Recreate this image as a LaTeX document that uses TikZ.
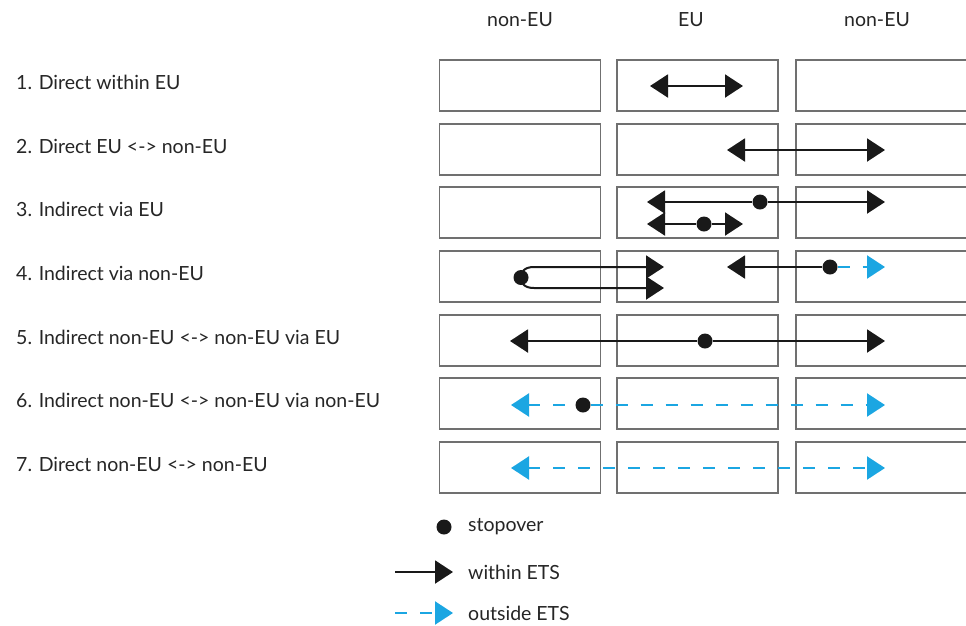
\documentclass[tikz,border=0pt]{standalone}
\usepackage{fontspec}
\setmainfont{Lato}
\usetikzlibrary{arrows.meta}
\definecolor{etsblue}{HTML}{1BA6E2}
\definecolor{boxgray}{HTML}{707070}
\begin{document}
\begin{tikzpicture}[x=1pt,y=-1pt,
  cell/.style={draw=boxgray,line width=1.2pt,minimum width=161pt,minimum height=51pt,inner sep=0pt},
  cellwide/.style={cell,minimum width=180pt},
  lbl/.style={anchor=base west,font=\fontsize{19.5}{22}\selectfont,text=black!85,inner sep=0pt},
  hdr/.style={font=\fontsize{19.5}{22}\selectfont,text=black!85,inner sep=0pt},
  stop/.style={circle,fill=black!90,minimum size=15pt,inner sep=0pt},
  tip/.style={Triangle[length=18pt,width=23pt]},
  within/.style={line width=2pt,black!90,{Triangle[length=18pt,width=23pt]}-{Triangle[length=18pt,width=23pt]}},
  withinR/.style={line width=2pt,black!90,-{Triangle[length=18pt,width=23pt]}},
  withinL/.style={line width=2pt,black!90,{Triangle[length=18pt,width=23pt]}-},
  outside/.style={line width=2.2pt,etsblue,dash pattern=on 12pt off 13pt,{Triangle[length=18pt,width=23pt]}-{Triangle[length=18pt,width=23pt]}},
  outsideR/.style={line width=2.2pt,etsblue,dash pattern=on 12pt off 13pt,-{Triangle[length=18pt,width=23pt]}},
  outsideL/.style={line width=2.2pt,etsblue,dash pattern=on 12pt off 13pt,{Triangle[length=18pt,width=23pt]}-},
]
\clip (0,0) rectangle (966,625);
\fill[white] (0,0) rectangle (966,625);
% headers
\node[hdr] (h1) at (520,20) {non-EU};
\node[hdr] (h2) at (691,20) {EU};
\node[hdr] (h3) at (877,20) {non-EU};
% rows
\foreach \r/\y/\t in {1/85.5/{1. Direct within EU},
                       2/149.5/{2. Direct EU <-> non-EU},
                       3/212.5/{3. Indirect via EU},
                       4/276.5/{4. Indirect via non-EU},
                       5/340.5/{5. Indirect non-EU <-> non-EU via EU},
                       6/403.5/{6. Indirect non-EU <-> non-EU via non-EU},
                       7/467.5/{7. Direct non-EU <-> non-EU}}{
  \node[lbl] (l\r) at (16,\y+3.5) {\t};
  \node[cell] (c\r a) at (520,\y) {};
  \node[cell] (c\r b) at (697.5,\y) {};
  \node[cellwide] (c\r c) at (886,\y) {};
}
% row 1
\coordinate (r1l) at (650,86);
\coordinate (r1r) at (743,86);
\draw[within] (r1l) -- (r1r);
% row 2
\coordinate (r2l) at (727,150);
\coordinate (r2r) at (885,150);
\draw[within] (r2l) -- (r2r);
% row 3
\coordinate (r3al) at (647,202);
\node[stop] (s3a) at (760,202) {};
\coordinate (r3ar) at (885,202);
\draw[withinL] (r3al) -- (s3a);
\draw[withinR] (s3a) -- (r3ar);
\coordinate (r3bl) at (647,224);
\node[stop] (s3b) at (704,224) {};
\coordinate (r3br) at (743,224);
\draw[withinL] (r3bl) -- (s3b);
\draw[withinR] (s3b) -- (r3br);
% row 4
\coordinate (r4at) at (664,267);
\coordinate (r4ab) at (664,288);
\coordinate (r4m) at (521,277.5);
\draw[within] (r4at) -- (534,267) .. controls (524,267) and (521,272) .. (r4m)
   .. controls (521,283) and (524,288) .. (534,288) -- (r4ab);
\node[stop] (s4a) at (r4m) {};
\node[stop] (s4b) at (830,267) {};
\coordinate (r4bl) at (727,267);
\coordinate (r4br) at (885,267);
\draw[withinL] (r4bl) -- (s4b);
\draw[outsideR] (s4b) -- (r4br);
% row 5
\coordinate (r5l) at (510,341);
\node[stop] (s5) at (705,341) {};
\coordinate (r5r) at (885,341);
\draw[withinL] (r5l) -- (s5);
\draw[withinR] (s5) -- (r5r);
% row 6
\coordinate (r6l) at (511,405);
\node[stop] (s6) at (583,405) {};
\coordinate (r6r) at (885,405);
\draw[outsideL] (r6l) -- (s6);
\draw[outsideR] (s6) -- (r6r);
% row 7
\coordinate (r7l) at (511,468);
\coordinate (r7r) at (885,468);
\draw[outside] (r7l) -- (r7r);
% legend
\node[stop] (lgdot) at (444,527) {};
\node[lbl,anchor=west] (lgt1) at (468,527) {stopover};
\coordinate (lga1) at (395,572);
\coordinate (lga1e) at (453,572);
\draw[withinR] (lga1) -- (lga1e);
\node[lbl,anchor=west] (lgt2) at (468,572) {within ETS};
\coordinate (lga2) at (395,613);
\coordinate (lga2e) at (453,613);
\draw[outsideR] (lga2) -- (lga2e);
\node[lbl,anchor=west] (lgt3) at (468,613) {outside ETS};
\end{tikzpicture}
\end{document}
